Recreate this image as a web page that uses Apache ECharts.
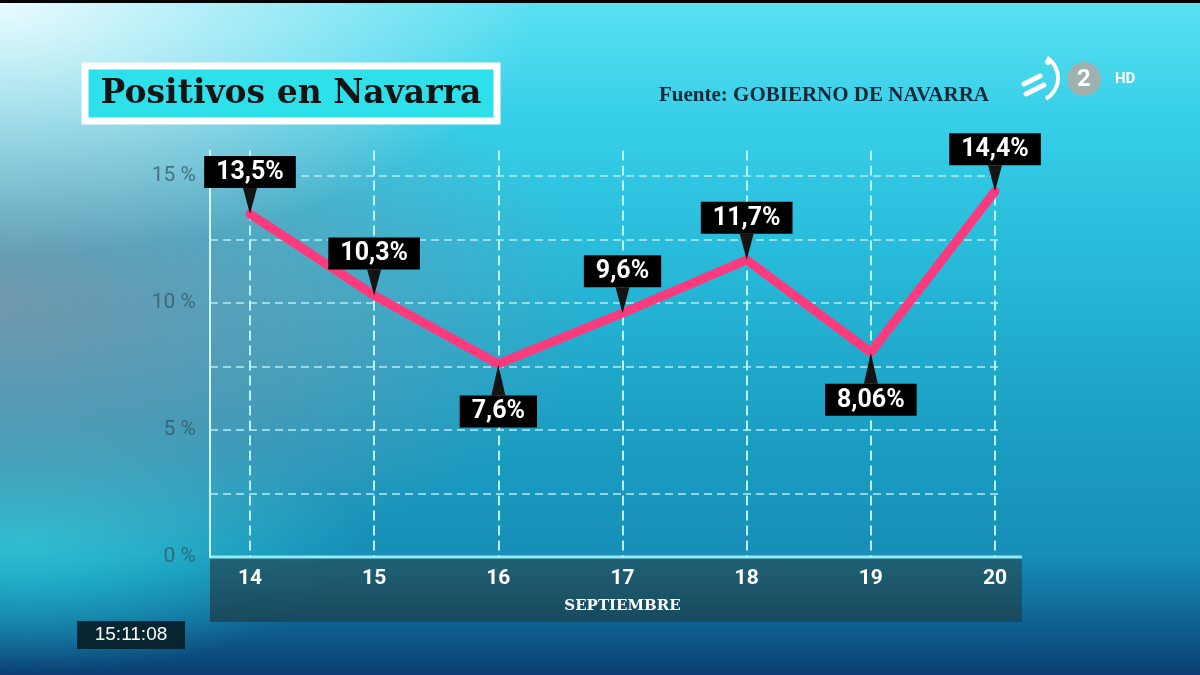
<!DOCTYPE html>
<html>
<head>
<meta charset="utf-8">
<script src="https://cdn.jsdelivr.net/npm/echarts@6/dist/echarts.min.js"></script>
<style>
  html, body { margin: 0; padding: 0; width: 1200px; height: 675px; overflow: hidden; }
  body {
    background:
      radial-gradient(ellipse 45% 38% at 0% 0%, rgba(242,252,254,0.95) 0%, rgba(220,245,250,0.6) 45%, rgba(220,245,250,0) 100%),
      radial-gradient(ellipse 50% 42% at 0% 45%, rgba(120,148,168,0.9) 0%, rgba(120,148,168,0.45) 55%, rgba(120,148,168,0) 100%),
      radial-gradient(ellipse 28% 20% at 2% 80%, rgba(38,205,220,0.85) 0%, rgba(38,205,220,0) 100%),
      linear-gradient(to bottom, #5ae0f2 0%, #36cfe8 18%, #27b8d8 40%, #1ca0c4 62%, #178fb8 82%, #0f5e90 93%, #0a3e72 100%);
  }
  #chart { width: 1200px; height: 675px; }
</style>
</head>
<body>
<div id="chart"></div>
<script>
const title = 'Positivos en Navarra';
const source = 'Fuente: GOBIERNO DE NAVARRA';
const monthName = 'SEPTIEMBRE';
const timestamp = '15:11:08';
const categories = ['14', '15', '16', '17', '18', '19', '20'];
const values = [13.5, 10.3, 7.6, 9.6, 11.7, 8.06, 14.4];

const fmt = v => String(v).replace('.', ',') + '%';

// label below the point when the point is a local minimum
const below = values.map((v, i) => {
  const prev = i > 0 ? values[i - 1] : Infinity;
  const next = i < values.length - 1 ? values[i + 1] : Infinity;
  return v < prev && v < next;
});

const triDown = 'path://M0,0 L10,0 L5,20 Z';
const triUp = 'path://M5,0 L10,20 L0,20 Z';

const pointerData = values.map((v, i) => ({
  value: v,
  symbol: below[i] ? triUp : triDown,
  symbolSize: below[i] ? [14, 31] : [14, 26],
  symbolOffset: below[i] ? [0, 16] : [0, -13],
  label: { position: below[i] ? 'bottom' : 'top', distance: 0 }
}));

const chart = echarts.init(document.getElementById('chart'), null, { renderer: 'canvas' });

const gridDash = { type: [8, 5], color: 'rgba(185,242,252,0.7)', width: 2 };

chart.setOption({
  backgroundColor: 'transparent',
  animation: false,
  grid: [
    { left: 250, right: 205, top: 150.6, bottom: 118 },
    { left: 210, right: 198, top: 176, bottom: 118 }
  ],
  xAxis: [
    {
      gridIndex: 0,
      type: 'category',
      data: categories,
      boundaryGap: false,
      axisLine: { show: false },
      axisTick: { show: false },
      axisLabel: { color: '#ffffff', fontSize: 21, fontWeight: 'bold', fontFamily: 'Roboto', margin: 11 },
      splitLine: { show: true, lineStyle: { type: [10, 5], color: 'rgba(195,248,255,0.95)', width: 2 } },
      name: monthName,
      nameLocation: 'middle',
      nameGap: 42,
      nameTextStyle: { color: '#ffffff', fontSize: 15, fontWeight: 'bold', fontFamily: 'DejaVu Serif' }
    },
    {
      gridIndex: 1,
      type: 'value',
      min: 0,
      max: 1,
      show: false,
      splitLine: { show: false }
    }
  ],
  yAxis: [
    {
      gridIndex: 0,
      type: 'value',
      min: 0,
      max: 16,
      interval: 5,
      offset: 40,
      axisLine: { show: true, lineStyle: { color: '#d2f7fb', width: 2 } },
      axisTick: { show: false },
      splitLine: { show: false },
      axisLabel: {
        showMaxLabel: false,
        color: 'rgba(45,85,100,0.72)',
        fontSize: 21,
        fontFamily: 'Roboto',
        margin: 14,
        formatter: v => v + ' %'
      }
    },
    {
      gridIndex: 1,
      type: 'value',
      min: 0,
      max: 15,
      interval: 2.5,
      axisLine: { show: false },
      axisTick: { show: false },
      axisLabel: { show: false },
      splitLine: { show: true, showMinLine: false, lineStyle: gridDash }
    }
  ],
  series: [
    {
      type: 'line',
      xAxisIndex: 0,
      yAxisIndex: 0,
      data: values,
      showSymbol: false,
      symbol: 'none',
      z: 3,
      lineStyle: { color: '#fb3b7d', width: 9, cap: 'round', join: 'round' }
    },
    {
      type: 'scatter',
      xAxisIndex: 0,
      yAxisIndex: 0,
      data: pointerData,
      symbolKeepAspect: false,
      z: 4,
      itemStyle: { color: '#141414', opacity: 1 },
      label: {
        show: true,
        formatter: p => fmt(p.value),
        color: '#ffffff',
        fontSize: 25,
        fontWeight: 'bold',
        fontFamily: 'Roboto',
        backgroundColor: '#000000',
        padding: [3, 12, 2, 12],
        lineHeight: 27,
        opacity: 1
      },
      emphasis: { disabled: true }
    }
  ],
  graphic: [
    // top black strip
    {
      type: 'rect', silent: true,
      shape: { x: 0, y: 0, width: 1200, height: 3 },
      style: { fill: '#050505' }
    },
    // axis band
    {
      type: 'rect', z: -10, silent: true,
      shape: { x: 210, y: 558, width: 812, height: 64 },
      style: {
        fill: new echarts.graphic.LinearGradient(0, 0, 0, 1, [
          { offset: 0, color: '#215f72' },
          { offset: 1, color: '#19485a' }
        ]),
        opacity: 0.95
      }
    },
    {
      type: 'line', z: -9, silent: true,
      shape: { x1: 210, y1: 557, x2: 1022, y2: 557 },
      style: { stroke: '#8fecf8', lineWidth: 3 }
    },
    // title box
    {
      type: 'rect', silent: true,
      shape: { x: 85, y: 66, width: 412, height: 55 },
      style: { fill: '#2ee0e9', stroke: '#ffffff', lineWidth: 7 }
    },
    {
      type: 'text', silent: true,
      x: 291, y: 94,
      style: {
        text: title, fill: '#141414',
        font: 'bold 33px "DejaVu Serif"',
        align: 'center', verticalAlign: 'middle'
      }
    },
    // source
    {
      type: 'text', silent: true,
      x: 659, y: 96,
      style: {
        text: source, fill: '#10283a',
        font: 'bold 21px "Liberation Serif"',
        align: 'left', verticalAlign: 'middle'
      }
    },
    // logo
    {
      type: 'arc', silent: true,
      shape: { cx: 1034, cy: 78, r: 24, startAngle: -1.0, endAngle: 1.05 },
      style: { stroke: '#ffffff', lineWidth: 4, fill: 'none' }
    },
    {
      type: 'line', silent: true,
      shape: { x1: 1024, y1: 84, x2: 1040, y2: 76 },
      style: { stroke: '#ffffff', lineWidth: 5, lineCap: 'round' }
    },
    {
      type: 'line', silent: true,
      shape: { x1: 1026, y1: 94, x2: 1044, y2: 85 },
      style: { stroke: '#ffffff', lineWidth: 5, lineCap: 'round' }
    },
    {
      type: 'circle', silent: true,
      shape: { cx: 1048, cy: 62, r: 3 },
      style: { fill: '#ffffff' }
    },
    {
      type: 'circle', silent: true,
      shape: { cx: 1084, cy: 79, r: 17 },
      style: { fill: '#9fb1ae' }
    },
    {
      type: 'text', silent: true,
      x: 1084, y: 80,
      style: { text: '2', fill: '#ffffff', font: 'bold 24px Roboto', align: 'center', verticalAlign: 'middle' }
    },
    {
      type: 'text', silent: true,
      x: 1115, y: 79,
      style: { text: 'HD', fill: '#ffffff', font: 'bold 15px Roboto', align: 'left', verticalAlign: 'middle' }
    },
    // timestamp
    {
      type: 'rect', silent: true,
      shape: { x: 77, y: 621, width: 108, height: 28 },
      style: { fill: 'rgba(8,32,40,0.92)' }
    },
    {
      type: 'text', silent: true,
      x: 131, y: 635,
      style: { text: timestamp, fill: '#ffffff', font: '19px "Liberation Sans"', align: 'center', verticalAlign: 'middle' }
    }
  ]
});
</script>
</body>
</html>
